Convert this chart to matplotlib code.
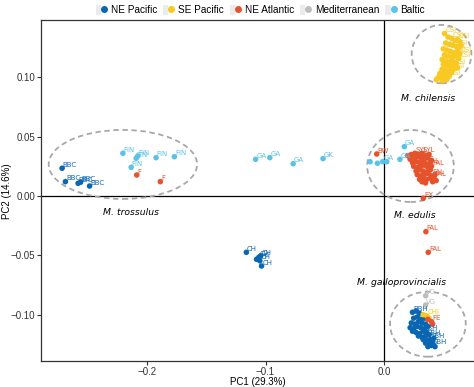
import matplotlib.pyplot as plt
from matplotlib.patches import Ellipse, Patch
from matplotlib.lines import Line2D
from matplotlib.legend_handler import HandlerTuple

populations = ["NE Pacific", "SE Pacific", "NE Atlantic", "Mediterranean", "Baltic"]
colors = ["#0b66b2", "#f8c823", "#e6522c", "#bdbdbd", "#5bc2e7"]

# NE Pacific
ne_pac_pc1 = [-0.2717, -0.2689, -0.2582, -0.2561, -0.2485,
              -0.1162, -0.1076, -0.1057, -0.1042, -0.1034, -0.1048,
              0.024, 0.027, 0.030,
              0.025, 0.028, 0.031, 0.034,
              0.023, 0.026, 0.029, 0.032, 0.035,
              0.022, 0.025, 0.028, 0.031, 0.034, 0.037,
              0.024, 0.027, 0.030, 0.033, 0.036,
              0.029, 0.032, 0.035, 0.038,
              0.033, 0.036, 0.039, 0.042,
              0.035, 0.038, 0.041,
              0.037, 0.040, 0.043]
ne_pac_pc2 = [0.0234, 0.0121, 0.0107, 0.0116, 0.0084,
              -0.0475, -0.0534, -0.0517, -0.0506, -0.0590, -0.0546,
              -0.098, -0.097, -0.099,
              -0.103, -0.102, -0.104, -0.103,
              -0.107, -0.108, -0.106, -0.107, -0.108,
              -0.111, -0.112, -0.110, -0.111, -0.112, -0.110,
              -0.114, -0.115, -0.116, -0.114, -0.115,
              -0.118, -0.119, -0.118, -0.117,
              -0.121, -0.122, -0.121, -0.120,
              -0.124, -0.125, -0.124,
              -0.127, -0.126, -0.127]
ne_pac_lab = ["BBC", "BBC", "BBC", "BBC", "BBC",
              "CH", "CH", "CH", "CH", "CH", "CH",
              "BBH", "", "",
              "", "", "", "",
              "", "", "", "", "",
              "", "", "", "", "", "",
              "", "", "", "SBH", "",
              "", "", "SBH", "",
              "", "", "SBH", "",
              "", "", "",
              "", "SBH", ""]

# SE Pacific
se_pac_pc1 = [0.051, 0.054, 0.057, 0.060, 0.062, 0.064,
              0.052, 0.055, 0.058, 0.061, 0.063, 0.065,
              0.050, 0.053, 0.056, 0.059, 0.062, 0.064,
              0.051, 0.054, 0.057, 0.060, 0.063,
              0.049, 0.052, 0.055, 0.058, 0.061,
              0.050, 0.053, 0.056, 0.059, 0.062,
              0.049, 0.052, 0.055, 0.058,
              0.048, 0.051, 0.054, 0.057,
              0.049, 0.052, 0.055,
              0.047, 0.050, 0.053,
              0.046, 0.049,
              0.045, 0.044,
              0.033, 0.036, 0.038]
se_pac_pc2 = [0.137, 0.134, 0.133, 0.131, 0.132, 0.130,
              0.129, 0.128, 0.127, 0.126, 0.125, 0.127,
              0.124, 0.123, 0.122, 0.121, 0.122, 0.120,
              0.119, 0.118, 0.117, 0.118, 0.116,
              0.115, 0.114, 0.113, 0.114, 0.112,
              0.111, 0.110, 0.109, 0.110, 0.108,
              0.107, 0.106, 0.105, 0.107,
              0.104, 0.103, 0.102, 0.104,
              0.101, 0.100, 0.101,
              0.103, 0.099, 0.098,
              0.100, 0.097,
              0.099, 0.098,
              -0.100, -0.101, -0.103]
se_pac_lab = ["CSI", "", "CSI", "", "CSI", "",
              "", "CSI", "", "CSI", "", "",
              "CSI", "", "", "CSI", "", "CSI",
              "", "CSI", "", "", "CSI",
              "CSI", "", "CSI", "", "",
              "", "CSI", "", "CSI", "",
              "CSI", "", "", "CSI",
              "", "CSI", "", "",
              "", "", "CSI",
              "", "", "",
              "", "",
              "", "",
              "", "CHI", ""]

# NE Atlantic
ne_atl_pc1 = [-0.2087, -0.1888, -0.0062, 0.0331, 0.0353, 0.0373,
              0.020, 0.023, 0.026, 0.029, 0.032, 0.035, 0.038,
              0.022, 0.025, 0.028, 0.031, 0.034, 0.037, 0.040,
              0.024, 0.027, 0.030, 0.033, 0.036, 0.039,
              0.025, 0.028, 0.031, 0.034, 0.037, 0.040,
              0.027, 0.030, 0.033, 0.036, 0.039,
              0.028, 0.031, 0.034, 0.037, 0.040, 0.043,
              0.030, 0.033, 0.036, 0.039, 0.042,
              0.032, 0.035, 0.041, 0.044,
              0.037, 0.040, 0.041]
ne_atl_pc2 = [0.0177, 0.0121, 0.0354, -0.0019, -0.0301, -0.0475,
              0.034, 0.035, 0.036, 0.035, 0.036, 0.034, 0.035,
              0.031, 0.032, 0.033, 0.032, 0.031, 0.032, 0.030,
              0.028, 0.029, 0.028, 0.029, 0.027, 0.028,
              0.025, 0.024, 0.025, 0.026, 0.024, 0.025,
              0.021, 0.022, 0.021, 0.020, 0.022,
              0.018, 0.017, 0.018, 0.019, 0.017, 0.018,
              0.014, 0.015, 0.014, 0.015, 0.016,
              0.012, 0.011, 0.012, 0.013,
              -0.104, -0.106, -0.108]
ne_atl_lab = ["F", "F", "BW", "EX", "FAL", "FAL",
              "", "", "SYL", "", "SYL", "", "",
              "", "", "", "SYL", "", "", "",
              "", "", "", "", "FAL", "",
              "", "", "", "", "", "FAL",
              "", "", "", "", "",
              "", "", "", "", "FAL", "",
              "", "", "", "", "FAL",
              "", "", "", "",
              "", "FE", ""]

# Mediterranean
med_pc1 = [0.0351, 0.0351]
med_pc2 = [-0.0841, -0.0919]
med_lab = ["VG", "VG"]

# Baltic
baltic_pc1 = [-0.2204, -0.2092, -0.2078, -0.1924, -0.1770, -0.2134,
              -0.1084, -0.0964, -0.0767, -0.0515,
              -0.0118, -0.0056, -0.0011, 0.0023, 0.0134, 0.0171]
baltic_pc2 = [0.0360, 0.0318, 0.0337, 0.0323, 0.0331, 0.0242,
              0.0309, 0.0323, 0.0272, 0.0315,
              0.0289, 0.0276, 0.0289, 0.0289, 0.0309, 0.0416]
baltic_lab = ["FIN", "FIN", "FIN", "FIN", "FIN", "FIN",
              "GA", "GA", "GA", "GK",
              "", "", "GA", "", "GA", "GA"]

# species groups: centre, width, height, label position
species = ["M. trossulus", "M. chilensis", "M. edulis", "M. galloprovincialis"]
ell_pc1 = [-0.2204, 0.0485, 0.0223, 0.0370]
ell_pc2 = [0.0266, 0.1196, 0.0253, -0.1081]
ell_w = [0.1252, 0.0504, 0.0731, 0.0639]
ell_h = [0.0582, 0.0492, 0.0607, 0.0548]
sp_lab_pc1 = [-0.2134, 0.0373, 0.0261, 0.0146]
sp_lab_pc2 = [-0.0138, 0.0824, -0.0166, -0.0731]

groups = [
    (ne_pac_pc1, ne_pac_pc2, ne_pac_lab),
    (se_pac_pc1, se_pac_pc2, se_pac_lab),
    (ne_atl_pc1, ne_atl_pc2, ne_atl_lab),
    (med_pc1, med_pc2, med_lab),
    (baltic_pc1, baltic_pc2, baltic_lab),
]

plt.rcParams['font.family'] = ['Liberation Sans', 'DejaVu Sans']

fig = plt.figure(figsize=(4.74, 3.87), dpi=100)
ax = fig.add_axes([0.0865, 0.0672, 0.9135, 0.880])

ax.axhline(0, color="black", lw=0.9, zorder=1)
ax.axvline(0, color="black", lw=0.9, zorder=1)

for (xs, ys, labs), col in zip(groups, colors):
    ax.scatter(xs, ys, s=16, color=col, edgecolors="none", zorder=3)
    for x, y, lab in zip(xs, ys, labs):
        if lab:
            ax.annotate(lab, (x, y), xytext=(0.5, 0.3), textcoords="offset points",
                        fontsize=5, color=col, ha="left", va="bottom",
                        family="DejaVu Sans", zorder=4)

for cx, cy, w, h in zip(ell_pc1, ell_pc2, ell_w, ell_h):
    ax.add_patch(Ellipse((cx, cy), w, h, fill=False, edgecolor="#a8a8a8",
                         lw=1.3, ls=(0, (3, 2)), zorder=2))

for name, x, y in zip(species, sp_lab_pc1, sp_lab_pc2):
    ax.text(x, y, name, fontsize=6.7, style="italic", family="DejaVu Sans",
            ha="center", va="center", color="black", zorder=5)

ax.set_xlim(-0.2895, 0.0759)
ax.set_ylim(-0.1391, 0.1480)
ax.set_xticks([-0.2, -0.1, 0.0])
ax.set_yticks([-0.10, -0.05, 0.0, 0.05, 0.10])
ax.set_xticklabels(["\u22120.2", "\u22120.1", "0.0"])
ax.set_yticklabels(["\u22120.10", "\u22120.05", "0.00", "0.05", "0.10"])
ax.tick_params(labelsize=7, length=3, width=0.8, colors="#333333",
               labelcolor="#333333", pad=1)
ax.set_xlabel("PC1 (29.3%)", fontsize=7, labelpad=0)
ax.set_ylabel("PC2 (14.6%)", fontsize=7, labelpad=-1)
for side in ["left", "bottom", "top"]:
    ax.spines[side].set_color("#333333")
    ax.spines[side].set_linewidth(0.9)
ax.spines["right"].set_visible(False)

handles = [(Patch(facecolor="#ebebeb", edgecolor="none"),
            Line2D([], [], marker="o", ls="", color=c, ms=4))
           for c in colors]
fig.legend(handles, populations, loc="center", bbox_to_anchor=(0.549, 0.974),
           ncol=5, frameon=False, fontsize=7.2, handlelength=1.1, handleheight=1.1,
           handletextpad=0.4, columnspacing=0.6,
           handler_map={tuple: HandlerTuple(ndivide=None, pad=0)})

fig.savefig("out.png", dpi=100)
